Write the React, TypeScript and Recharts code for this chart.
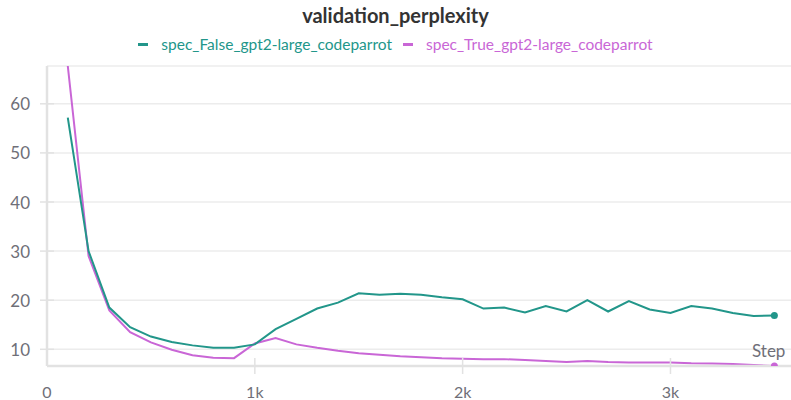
import { CartesianGrid, Line, LineChart, XAxis, YAxis } from "recharts";

const steps = [
  100, 200, 300, 400, 500, 600, 700, 800, 900, 1000, 1100, 1200, 1300, 1400,
  1500, 1600, 1700, 1800, 1900, 2000, 2100, 2200, 2300, 2400, 2500, 2600, 2700,
  2800, 2900, 3000, 3100, 3200, 3300, 3400, 3500,
];

const specFalse = [
  57.2, 30.0, 18.5, 14.5, 12.6, 11.5, 10.8, 10.3, 10.3, 11.0, 14.1, 16.2, 18.3,
  19.5, 21.4, 21.1, 21.3, 21.1, 20.6, 20.2, 18.3, 18.5, 17.5, 18.8, 17.7, 20.0,
  17.7, 19.8, 18.1, 17.4, 18.8, 18.3, 17.4, 16.8, 16.9,
];

const specTrue = [
  67.7, 29.0, 17.9, 13.5, 11.4, 9.9, 8.8, 8.3, 8.2, 11.2, 12.3, 11.0, 10.3,
  9.7, 9.2, 8.9, 8.6, 8.4, 8.2, 8.1, 8.0, 8.0, 7.8, 7.6, 7.4, 7.6, 7.4, 7.3,
  7.3, 7.3, 7.15, 7.1, 7.0, 6.8, 6.6,
];

const yTicks = [10, 20, 30, 40, 50, 60];
const xTicks = [0, 1000, 2000, 3000];

const GREEN = "#22968a";
const PINK = "#c966d6";
const TICK = "#6f6f78";
const FONT = "Lato, 'Noto Sans', sans-serif";

const data = steps.map((s, i) => ({ step: s, f: specFalse[i], t: specTrue[i] }));

function YTick({ x, y, payload }: any) {
  return (
    <g>
      <line x1={x - 7} x2={x + 7} y1={y} y2={y} stroke="#e2e2e2" strokeWidth={1.5} />
      <text x={x - 17} y={y} textAnchor="end" dominantBaseline="central" fill={TICK} fontSize={17} fontFamily={FONT}>
        {payload.value}
      </text>
    </g>
  );
}

function XTick({ x, y, payload }: any) {
  const v = payload.value;
  return (
    <g>
      {v !== 0 && <line x1={x} x2={x} y1={y - 8} y2={y + 8} stroke="#e2e2e2" strokeWidth={1.5} />}
      <text x={x} y={y + 25} textAnchor="middle" dominantBaseline="central" fill={TICK} fontSize={16} fontFamily={FONT}>
        {v === 0 ? "0" : `${v / 1000}k`}
      </text>
    </g>
  );
}

const lastDot = (color: string) => (props: any) => {
  const { cx, cy, index } = props;
  if (index !== steps.length - 1) return <g key={`d${index}`} />;
  return <circle key={`d${index}`} cx={cx} cy={cy} r={3.5} fill={color} stroke="none" />;
};

export default function App() {
  return (
    <div style={{ position: "absolute", left: 0, top: 0, width: 791, height: 400, background: "#fff", fontFamily: FONT }}>
      <div style={{ position: "absolute", top: 3, width: 791, textAlign: "center", fontSize: 20, fontWeight: 700, color: "#333" }}>
        validation_perplexity
      </div>
      <div style={{ position: "absolute", top: 35, width: 791, display: "flex", justifyContent: "center", gap: 11, fontSize: 15.5 }}>
        {[
          ["spec_False_gpt2-large_codeparrot", GREEN],
          ["spec_True_gpt2-large_codeparrot", PINK],
        ].map(([name, c]) => (
          <span key={name} style={{ color: c, display: "flex", alignItems: "center" }}>
            <span style={{ display: "inline-block", width: 10, height: 3, background: c, marginRight: 13 }} />
            {name}
          </span>
        ))}
      </div>
      <LineChart width={791} height={400} data={data} margin={{ top: 66, right: 0, left: 0, bottom: 0 }}>
        <CartesianGrid horizontal vertical={false} stroke="#ececec" strokeWidth={1.5} />
        <XAxis
          dataKey="step"
          type="number"
          domain={[0, 3580]}
          ticks={xTicks}
          height={34}
          tickSize={0}
          tickMargin={0}
          tick={<XTick />}
          axisLine={{ stroke: "#e2e2e2", strokeWidth: 2.5 }}
          tickLine={false}
        />
        <YAxis
          domain={[6.6, 67.7]}
          ticks={yTicks}
          width={47}
          tickSize={0}
          tickMargin={0}
          tick={<YTick />}
          axisLine={{ stroke: "#e2e2e2", strokeWidth: 2.5 }}
          tickLine={false}
          allowDataOverflow
        />
        <Line dataKey="t" stroke={PINK} strokeWidth={2} dot={lastDot(PINK)} activeDot={false} isAnimationActive={false} />
        <Line dataKey="f" stroke={GREEN} strokeWidth={2} dot={lastDot(GREEN)} activeDot={false} isAnimationActive={false} />
      </LineChart>
      <div style={{ position: "absolute", left: 752, top: 340, fontSize: 17, color: TICK }}>Step</div>
    </div>
  );
}
